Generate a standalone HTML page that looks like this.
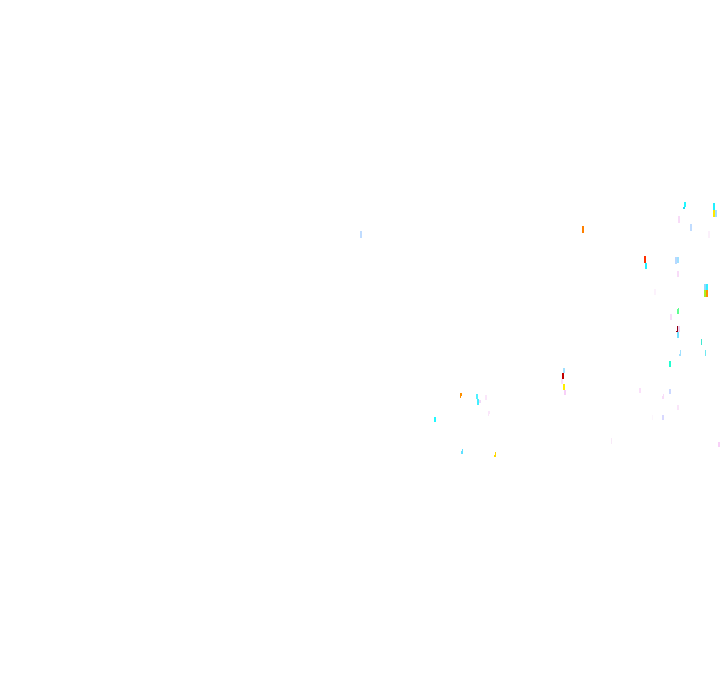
<!DOCTYPE html>
<html>
<head>
<meta charset="utf-8">
<title>Diagram</title>
<style>
html,body{margin:0;padding:0;background:#fff;width:720px;height:692px;overflow:hidden}
svg{display:block}
</style>
</head>
<body>
<svg xmlns="http://www.w3.org/2000/svg" width="720" height="692" viewBox="0 0 720 692" shape-rendering="crispEdges">
<rect width="720" height="692" fill="#fff"/>
<rect x="684" y="202" width="2" height="5" fill="#20f8ff"/>
<rect x="683" y="207" width="2" height="2" fill="#20d8f0"/>
<rect x="713" y="203" width="2" height="7" fill="#20f0ff"/>
<rect x="713" y="210" width="2" height="7" fill="#ffe800"/>
<rect x="715" y="210" width="2" height="7" fill="#a0e0ff"/>
<rect x="678" y="216" width="2" height="7" fill="#f8dcf8"/>
<rect x="690" y="224" width="2" height="7" fill="#c0dcff"/>
<rect x="708" y="231" width="2" height="7" fill="#fbf0fb"/>
<rect x="360" y="231" width="2" height="7" fill="#c0dcff"/>
<rect x="582" y="226" width="2" height="7" fill="#ff8000"/>
<rect x="644" y="256" width="2" height="7" fill="#ff3000"/>
<rect x="645" y="263" width="2" height="6" fill="#20f0ff"/>
<rect x="675" y="257" width="2" height="7" fill="#b8d8ff"/>
<rect x="677" y="257" width="2" height="6" fill="#a0e0ff"/>
<rect x="677" y="271" width="2" height="6" fill="#f8dcf8"/>
<rect x="704" y="284" width="2" height="6" fill="#90d8ff"/>
<rect x="706" y="284" width="2" height="6" fill="#30f0ff"/>
<rect x="704" y="290" width="2" height="7" fill="#a8f020"/>
<rect x="706" y="290" width="2" height="7" fill="#ff9000"/>
<rect x="654" y="289" width="2" height="6" fill="#fcf2fc"/>
<rect x="678" y="308" width="1" height="1" fill="#60ff90"/>
<rect x="677" y="309" width="2" height="5" fill="#60ff90"/>
<rect x="670" y="314" width="2" height="6" fill="#f8dcf8"/>
<rect x="677" y="326" width="1" height="5" fill="#900010"/>
<rect x="676" y="331" width="2" height="1" fill="#900010"/>
<rect x="678" y="326" width="2" height="6" fill="#f0d0f0"/>
<rect x="677" y="332" width="2" height="6" fill="#70e0ff"/>
<rect x="701" y="339" width="1" height="6" fill="#40e8d0"/>
<rect x="680" y="350" width="1" height="5" fill="#a0e0ff"/>
<rect x="679" y="354" width="2" height="2" fill="#a0e0ff"/>
<rect x="705" y="350" width="1" height="6" fill="#70e8f0"/>
<rect x="669" y="361" width="2" height="6" fill="#20ffd0"/>
<rect x="563" y="368" width="2" height="5" fill="#a0e0ff"/>
<rect x="562" y="373" width="2" height="6" fill="#c00000"/>
<rect x="561" y="379" width="2" height="5" fill="#fae0fa"/>
<rect x="563" y="384" width="2" height="6" fill="#ffee00"/>
<rect x="564" y="390" width="2" height="5" fill="#f8d0f8"/>
<rect x="639" y="388" width="2" height="5" fill="#fae0fa"/>
<rect x="669" y="389" width="2" height="5" fill="#ccd8ff"/>
<rect x="663" y="394" width="1" height="2" fill="#f8dcf8"/>
<rect x="662" y="396" width="2" height="3" fill="#f8dcf8"/>
<rect x="677" y="405" width="2" height="5" fill="#fae6fa"/>
<rect x="662" y="415" width="2" height="5" fill="#d8d8ff"/>
<rect x="652" y="415" width="1" height="5" fill="#fcf6fc"/>
<rect x="718" y="442" width="2" height="5" fill="#f8d0f8"/>
<rect x="611" y="438" width="1" height="6" fill="#f8eaf8"/>
<rect x="460" y="393" width="2" height="3" fill="#ff9000"/>
<rect x="460" y="396" width="1" height="2" fill="#ff9000"/>
<rect x="476" y="394" width="2" height="5" fill="#50f0ff"/>
<rect x="477" y="399" width="2" height="6" fill="#40f0ff"/>
<rect x="479" y="400" width="2" height="3" fill="#f0d8f8"/>
<rect x="485" y="395" width="2" height="5" fill="#fae6fa"/>
<rect x="488" y="411" width="2" height="3" fill="#fae6fa"/>
<rect x="488" y="414" width="1" height="2" fill="#fae6fa"/>
<rect x="434" y="417" width="2" height="5" fill="#20f8ff"/>
<rect x="462" y="449" width="1" height="2" fill="#60e0ff"/>
<rect x="461" y="451" width="2" height="3" fill="#60e0ff"/>
<rect x="495" y="452" width="1" height="3" fill="#ffd800"/>
<rect x="494" y="455" width="2" height="2" fill="#ffd800"/>
</svg>
</body>
</html>
